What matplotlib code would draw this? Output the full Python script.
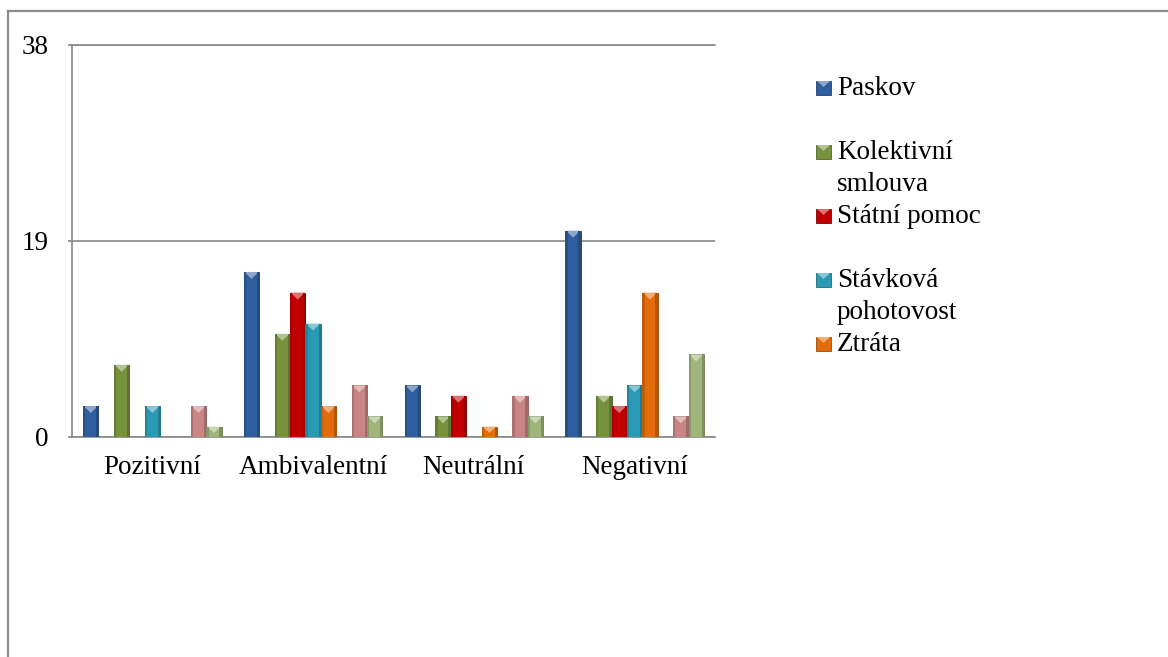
import numpy as np
import matplotlib.pyplot as plt
from matplotlib.patches import Rectangle, Polygon
from matplotlib.lines import Line2D
from matplotlib.colors import to_rgb

plt.rcParams['font.family'] = ['Liberation Serif', 'DejaVu Serif']

categories = ['Pozitivní', 'Ambivalentní', 'Neutrální', 'Negativní']
y_ticks = [0, 19, 38]

# one list per series, in cluster order (two series are empty everywhere)
paskov = [3, 16, 5, 20]
prazdna1 = [0, 0, 0, 0]
kolektivni = [7, 10, 2, 4]
statni_pomoc = [0, 14, 4, 3]
stavkova = [3, 11, 0, 5]
ztrata = [0, 3, 1, 14]
prazdna2 = [0, 0, 0, 0]
ruzova = [3, 5, 4, 2]
zelena = [1, 2, 2, 8]

series = [paskov, prazdna1, kolektivni, statni_pomoc, stavkova, ztrata, prazdna2, ruzova, zelena]
names = ['Paskov', None, 'Kolektivní\nsmlouva', 'Státní pomoc', 'Stávková\npohotovost',
         'Ztráta', None, None, None]
colors = ['#2F5E9E', '#8064A2', '#76923C', '#C00000', '#2A9AB4', '#E36C0A',
          '#4BACC6', '#C98484', '#A0B57A']

W, H = 1168, 657
fig = plt.figure(figsize=(W / 100, H / 100), dpi=100)
ax = fig.add_axes([72 / W, 1 - 437 / H, (715 - 72) / W, (437 - 45) / H])

def lighter(c, f):
    r = np.array(to_rgb(c))
    return tuple(r + (1 - r) * f)

def darker(c, f):
    return tuple(np.array(to_rgb(c)) * (1 - f))

x = np.arange(len(categories))
n = len(series)
w = 0.0958
px_per_unit = (437 - 45) / 38
for i, (vals, c) in enumerate(zip(series, colors)):
    bars = ax.bar(x + (i - (n - 1) / 2) * w, vals, w, color=c,
                  edgecolor=darker(c, 0.25), linewidth=0.7, zorder=3)
    for b in bars:
        h = b.get_height()
        if h <= 0:
            continue
        # bevel highlight at the top of each bar
        th = min(7 / px_per_unit, 0.6 * h)
        x0, x1 = b.get_x(), b.get_x() + b.get_width()
        ax.add_patch(Polygon([(x0 + 0.004, h), (x1 - 0.004, h), ((x0 + x1) / 2, h - th)],
                             closed=True, facecolor=lighter(c, 0.45), edgecolor='none', zorder=4))
        ax.add_patch(Rectangle((x0, 0), 0.15 * (x1 - x0), h, facecolor=darker(c, 0.15),
                               edgecolor='none', zorder=4))
        ax.add_patch(Rectangle((x1 - 0.15 * (x1 - x0), 0), 0.15 * (x1 - x0), h,
                               facecolor=darker(c, 0.2), edgecolor='none', zorder=4))

grey = '#878787'
ax.set_xlim(-0.5, len(categories) - 0.5)
ax.set_ylim(0, 38)
ax.set_yticks(y_ticks)
ax.set_xticks(x)
ax.set_xticklabels(categories)
ax.yaxis.grid(True, color=grey, linewidth=1.2, zorder=0)
for side in ['left', 'bottom', 'top']:
    ax.spines[side].set_color(grey)
    ax.spines[side].set_linewidth(1.2)
ax.spines['right'].set_visible(False)
ax.tick_params(axis='y', length=3, color=grey, width=1.2, pad=14, labelsize=19.5)
ax.tick_params(axis='x', length=0, pad=13, labelsize=19.5)

# legend drawn line by line
lx, ly0, step = 837, 95, 32
line_no = 0
for name, c in zip(names[:6], colors[:6]):
    if name is None:
        continue
    base = ly0 + line_no * 64
    fig.patches.append(Rectangle((816 / W, 1 - base / H), 15 / W, 14 / H,
                                 transform=fig.transFigure, facecolor=c,
                                 edgecolor=darker(c, 0.3), linewidth=0.6))
    fig.patches.append(Polygon([(817 / W, 1 - (base - 14) / H), (830 / W, 1 - (base - 14) / H),
                                (823.5 / W, 1 - (base - 8) / H)], closed=True,
                               transform=fig.transFigure, facecolor=lighter(c, 0.45),
                               edgecolor='none'))
    for k, part in enumerate(name.split('\n')):
        fig.text(lx / W, 1 - (base + k * step) / H, part, fontsize=19.5,
                 va='baseline', ha='left')
    line_no += 1

# outer frame of the chart area
fig.add_artist(Line2D([7.5 / W, 7.5 / W], [0, 1 - 10.5 / H], color='#8C8C8C',
                      linewidth=1.6, transform=fig.transFigure))
fig.add_artist(Line2D([7.5 / W, 1], [1 - 10.5 / H, 1 - 10.5 / H], color='#8C8C8C',
                      linewidth=1.6, transform=fig.transFigure))

fig.savefig('out.png', dpi=100)
